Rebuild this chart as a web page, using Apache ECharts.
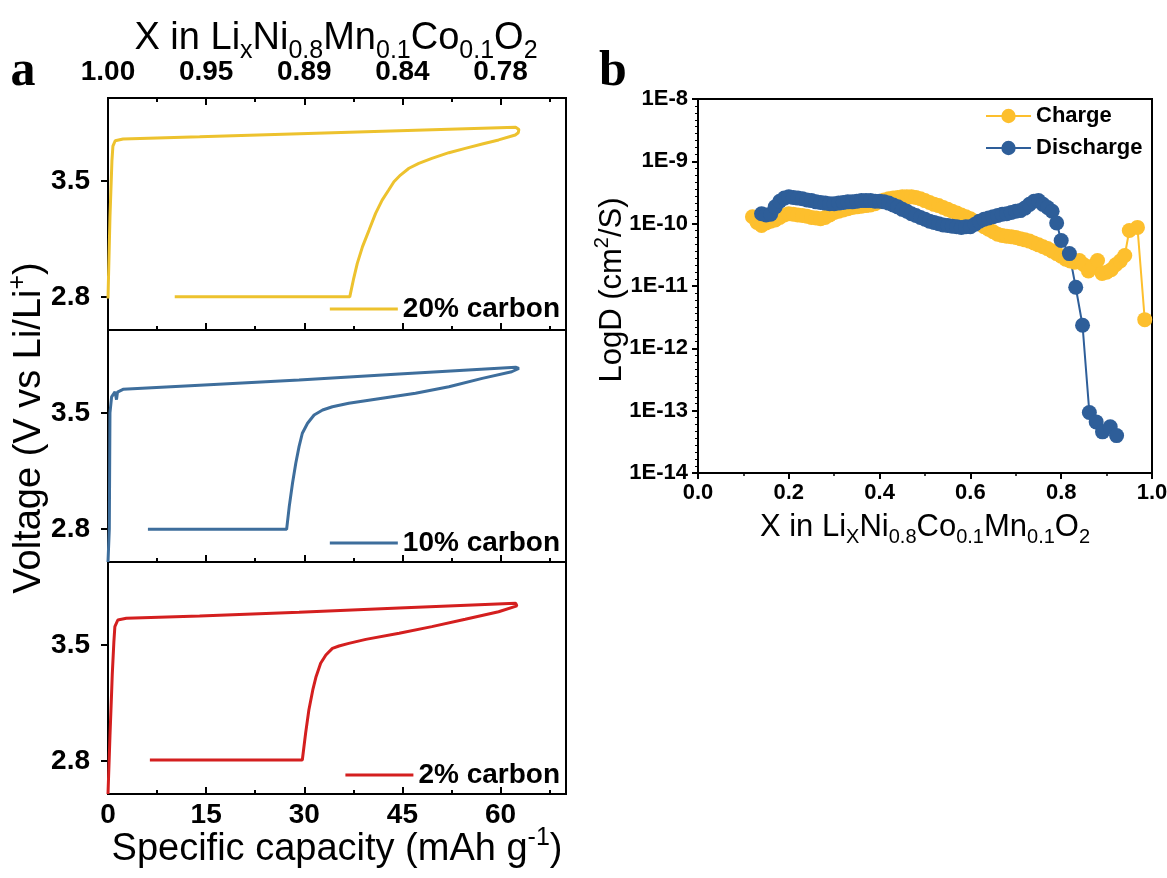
<!DOCTYPE html>
<html>
<head>
<meta charset="utf-8">
<script src="https://cdn.jsdelivr.net/npm/echarts@6/dist/echarts.min.js"></script>
<style>
  html, body { margin: 0; padding: 0; background: #fff; }
  #chart { width: 1167px; height: 878px; }
</style>
</head>
<body>
<div id="chart"></div>
<script>
// ---------- panel a: charge/discharge voltage profiles ----------
// capacity in mAh/g, voltage in V (each list traces charge, then discharge)
const capacityTickLabels = ['0', '15', '30', '45', '60'];
const lithiumTickLabels = ['1.00', '0.95', '0.89', '0.84', '0.78'];
const voltageTicks = [2.8, 3.5];

const cap20 = [0, 0.3, 0.6, 0.75, 1.1, 2.3, 14.0, 29.3, 44.5, 62.3, 62.8, 62.7, 62.25, 59.7, 57.2, 54.6, 52.1, 49.5, 47.5, 46.0, 44.7, 43.7, 42.9, 41.9, 40.9, 39.9, 38.9, 38.1, 37.5, 36.95, 10.2];
const volt20 = [2.79, 3.28, 3.62, 3.71, 3.742, 3.753, 3.766, 3.785, 3.803, 3.823, 3.81, 3.79, 3.777, 3.747, 3.722, 3.696, 3.670, 3.636, 3.606, 3.576, 3.535, 3.495, 3.445, 3.384, 3.304, 3.203, 3.103, 3.002, 2.902, 2.80, 2.80];

const cap10 = [0, 0.2, 0.3, 0.55, 1.07, 1.3, 1.45, 2.3, 14.0, 29.2, 44.5, 62.3, 62.8, 62.7, 61.7, 57.2, 52.1, 47.0, 41.9, 36.8, 34.3, 32.8, 31.5, 30.5, 29.7, 29.2, 28.7, 28.2, 27.7, 27.3, 6.1];
const volt10 = [2.6, 2.8, 3.5, 3.597, 3.627, 3.58, 3.625, 3.642, 3.666, 3.698, 3.735, 3.775, 3.768, 3.758, 3.748, 3.708, 3.658, 3.618, 3.588, 3.558, 3.537, 3.517, 3.487, 3.437, 3.377, 3.296, 3.196, 3.075, 2.934, 2.797, 2.797];

const cap2 = [0, 0.3, 0.55, 0.65, 0.9, 1.05, 1.5, 2.8, 14.0, 29.2, 44.5, 62.3, 62.6, 62.5, 62.25, 59.7, 54.6, 49.5, 44.5, 39.4, 36.8, 35.3, 34.3, 33.3, 32.5, 31.8, 31.3, 30.7, 30.2, 29.7, 6.4];
const volt2 = [2.6, 2.95, 3.21, 3.32, 3.52, 3.61, 3.65, 3.66, 3.674, 3.697, 3.722, 3.751, 3.745, 3.735, 3.740, 3.700, 3.654, 3.610, 3.570, 3.533, 3.509, 3.493, 3.479, 3.439, 3.389, 3.308, 3.228, 3.107, 2.966, 2.805, 2.805];

// ---------- panel b: Li-ion diffusion coefficient (log10 of D in cm2/s) ----------
const chargeX = [0.12, 0.13, 0.14, 0.15, 0.16, 0.17, 0.18, 0.19, 0.20, 0.21, 0.22, 0.23, 0.24, 0.25, 0.26, 0.27, 0.28, 0.29,
  0.30, 0.31, 0.32, 0.33, 0.34, 0.35, 0.36, 0.37, 0.38, 0.39, 0.40, 0.41, 0.42, 0.43, 0.44, 0.45, 0.46, 0.47, 0.48, 0.49,
  0.50, 0.51, 0.52, 0.53, 0.54, 0.55, 0.56, 0.57, 0.58, 0.59, 0.60, 0.61, 0.62, 0.63, 0.64, 0.65, 0.66, 0.67, 0.68, 0.69,
  0.70, 0.71, 0.72, 0.73, 0.74, 0.75, 0.76, 0.77, 0.78, 0.79, 0.80, 0.81, 0.82, 0.83, 0.84, 0.85, 0.86, 0.87, 0.88, 0.89,
  0.90, 0.91, 0.92, 0.93, 0.94, 0.95, 0.968, 0.984];
const chargeLogD = [-9.89, -9.98, -10.03, -9.99, -9.96, -9.94, -9.90, -9.86, -9.84, -9.85, -9.86, -9.87, -9.88, -9.90, -9.91, -9.92, -9.90, -9.86,
  -9.82, -9.80, -9.78, -9.76, -9.74, -9.73, -9.72, -9.71, -9.70, -9.68, -9.65, -9.62, -9.60, -9.59, -9.58, -9.57, -9.57, -9.57, -9.58, -9.60,
  -9.63, -9.66, -9.69, -9.71, -9.74, -9.77, -9.80, -9.83, -9.86, -9.89, -9.92, -9.96, -10.00, -10.05, -10.09, -10.13, -10.17, -10.19, -10.20, -10.21,
  -10.22, -10.24, -10.26, -10.28, -10.31, -10.34, -10.37, -10.40, -10.44, -10.48, -10.52, -10.57, -10.60, -10.62, -10.59, -10.66, -10.76, -10.68, -10.59, -10.80,
  -10.78, -10.74, -10.66, -10.60, -10.51, -10.11, -10.06, -11.54];

const dischargeX = [0.14, 0.15, 0.16, 0.17, 0.18, 0.19, 0.20, 0.21, 0.22, 0.23, 0.24, 0.25, 0.26, 0.27, 0.28, 0.29,
  0.30, 0.31, 0.32, 0.33, 0.34, 0.35, 0.36, 0.37, 0.38, 0.39, 0.40, 0.41, 0.42, 0.43, 0.44, 0.45, 0.46, 0.47, 0.48, 0.49,
  0.50, 0.51, 0.52, 0.53, 0.54, 0.55, 0.56, 0.57, 0.58, 0.59, 0.60, 0.61, 0.62, 0.63, 0.64, 0.65, 0.66, 0.67, 0.68, 0.69,
  0.70, 0.71, 0.72, 0.73, 0.74, 0.75, 0.76, 0.77, 0.78, 0.79, 0.80, 0.818, 0.832, 0.847, 0.862, 0.877, 0.891, 0.908, 0.922];
const dischargeLogD = [-9.84, -9.86, -9.85, -9.73, -9.64, -9.59, -9.57, -9.58, -9.59, -9.60, -9.62, -9.63, -9.65, -9.66, -9.67, -9.68,
  -9.68, -9.67, -9.66, -9.65, -9.65, -9.64, -9.63, -9.63, -9.63, -9.64, -9.64, -9.65, -9.67, -9.70, -9.73, -9.77, -9.80, -9.84, -9.87, -9.90,
  -9.93, -9.96, -9.98, -10.00, -10.02, -10.03, -10.04, -10.05, -10.06, -10.05, -10.05, -10.01, -9.96, -9.93, -9.91, -9.89, -9.87, -9.85, -9.84, -9.82,
  -9.80, -9.79, -9.75, -9.69, -9.64, -9.63, -9.69, -9.74, -9.80, -9.99, -10.27, -10.48, -11.02, -11.63, -13.03, -13.18, -13.34, -13.26, -13.40];

// ---------- helpers ----------
const zip = (xs, ys) => xs.map((x, i) => [x, ys[i]]);
const zipLog = (xs, ys) => xs.map((x, i) => [x, Math.pow(10, ys[i])]);

const FONT = '"Liberation Sans", Arial, sans-serif';
const BLACK = '#000';
const YELLOW_A = '#EDC22E', BLUE_A = '#3E6E9C', RED_A = '#D41F1F';
const YELLOW_B = '#FDBF2D', BLUE_B = '#2E5E99';

// three stacked panels share the same geometry
const panelLeft = 108, panelWidth = 458, panelHeight = 232;
const panelTops = [98, 330, 562];

const grids = panelTops.map(t => ({
  left: panelLeft, top: t, width: panelWidth, height: panelHeight,
  show: true, borderColor: BLACK, borderWidth: 2, backgroundColor: 'transparent',
  containLabel: false, outerBoundsMode: 'none'
}));
grids.push({
  left: 698, top: 99, width: 454, height: 374,
  show: true, borderColor: BLACK, borderWidth: 2, backgroundColor: 'transparent',
  containLabel: false, outerBoundsMode: 'none'
});

function capacityAxis(gridIndex, opts) {
  return Object.assign({
    type: 'value', gridIndex, min: 0, max: 70, interval: 15,
    axisLine: { show: true, onZero: false, lineStyle: { color: BLACK, width: 2 } },
    axisTick: { show: true, inside: true, length: 7, lineStyle: { color: BLACK, width: 2 } },
    minorTick: { show: true, splitNumber: 2, length: 4, lineStyle: { color: BLACK, width: 2 } },
    splitLine: { show: false },
    axisLabel: { show: false }
  }, opts);
}

const tickLabelA = { fontFamily: FONT, fontWeight: 'bold', fontSize: 28, color: BLACK };

const xAxes = [
  capacityAxis(0, { position: 'bottom' }),
  capacityAxis(0, {
    position: 'top',
    axisLabel: Object.assign({ show: true, margin: 12,
      formatter: v => (v % 15 === 0 && v / 15 < lithiumTickLabels.length) ? lithiumTickLabels[v / 15] : '' }, tickLabelA)
  }),
  capacityAxis(1, { position: 'bottom' }),
  capacityAxis(2, {
    position: 'bottom',
    axisLabel: Object.assign({ show: true, margin: 7,
      formatter: v => (v % 15 === 0 && v / 15 < capacityTickLabels.length) ? capacityTickLabels[v / 15] : '' }, tickLabelA)
  }),
  {
    type: 'value', gridIndex: 3, min: 0, max: 1, interval: 0.2, position: 'bottom',
    axisLine: { show: true, onZero: false, lineStyle: { color: BLACK, width: 2 } },
    axisTick: { show: true, inside: false, length: 6, lineStyle: { color: BLACK, width: 2 } },
    minorTick: { show: true, splitNumber: 2, length: 3, lineStyle: { color: BLACK, width: 1.5 } },
    splitLine: { show: false },
    axisLabel: { show: true, margin: 9, fontFamily: FONT, fontWeight: 'bold', fontSize: 22, color: BLACK,
      formatter: v => v.toFixed(1) }
  }
];

const yAxes = [0, 1, 2].map(g => ({
  type: 'value', gridIndex: g, min: 2.6, max: 4.0,
  axisLine: { show: true, onZero: false, lineStyle: { color: BLACK, width: 2 } },
  axisTick: { show: true, inside: false, length: 7, customValues: voltageTicks, lineStyle: { color: BLACK, width: 2 } },
  splitLine: { show: false },
  axisLabel: Object.assign({ show: true, margin: 18, customValues: voltageTicks, formatter: v => v.toFixed(1) }, tickLabelA)
}));
yAxes.push({
  type: 'log', logBase: 10, gridIndex: 3, min: 1e-14, max: 1e-8,
  axisLine: { show: true, onZero: false, lineStyle: { color: BLACK, width: 2 } },
  axisTick: { show: true, inside: false, length: 6, lineStyle: { color: BLACK, width: 2 } },
  splitLine: { show: false },
  axisLabel: { show: true, margin: 10, fontFamily: FONT, fontWeight: 'bold', fontSize: 22, color: BLACK,
    formatter: v => '1E' + Math.round(Math.log10(v)) }
});
// companion axis in decades, only to draw the small ticks between the decades
yAxes.push({
  type: 'value', gridIndex: 3, min: -14, max: -8, interval: 1, position: 'left',
  axisLine: { show: false }, axisTick: { show: false }, axisLabel: { show: false }, splitLine: { show: false },
  minorTick: { show: true, splitNumber: 9, length: 3, lineStyle: { color: BLACK, width: 1 } }
});

function profile(name, xi, yi, data, color) {
  return {
    name, type: 'line', xAxisIndex: xi, yAxisIndex: yi, data,
    symbol: 'none', smooth: false, clip: true,
    lineStyle: { color, width: 3 }, itemStyle: { color }
  };
}

function diffusion(name, data, color) {
  return {
    name, type: 'line', xAxisIndex: 4, yAxisIndex: 3, data,
    symbol: 'circle', symbolSize: 15, showSymbol: true,
    lineStyle: { color, width: 2 }, itemStyle: { color }
  };
}

const series = [
  profile('20% carbon', 0, 0, zip(cap20, volt20), YELLOW_A),
  profile('10% carbon', 2, 1, zip(cap10, volt10), BLUE_A),
  profile('2% carbon', 3, 2, zip(cap2, volt2), RED_A),
  diffusion('Charge', zipLog(chargeX, chargeLogD), YELLOW_B),
  diffusion('Discharge', zipLog(dischargeX, dischargeLogD), BLUE_B)
];

const legendTextA = { fontFamily: FONT, fontWeight: 'bold', fontSize: 28, color: BLACK };
function panelLegend(name, top) {
  return {
    data: [name], right: 607, top, orient: 'horizontal', padding: 0,
    icon: 'rect', itemWidth: 68, itemHeight: 3, itemGap: 0, itemTextGap: 7,
    selectedMode: false, textStyle: legendTextA
  };
}

const legends = [
  panelLegend('20% carbon', 295),
  panelLegend('10% carbon', 529),
  panelLegend('2% carbon', 761),
  {
    data: ['Charge', 'Discharge'], left: 985, top: 105, orient: 'vertical', padding: 0,
    itemWidth: 45, itemHeight: 18, itemGap: 10, itemTextGap: 5, selectedMode: false,
    textStyle: { fontFamily: FONT, fontWeight: 'bold', fontSize: 22, color: BLACK }
  }
];

// titles with sub/superscripts
const titleRich = (size, small) => ({
  sub: { fontSize: small, fontFamily: FONT, fill: BLACK, lineHeight: small, verticalAlign: 'bottom' },
  sup: { fontSize: small, fontFamily: FONT, fill: BLACK, lineHeight: Math.round(size * 0.95), verticalAlign: 'top' }
});
function titleText(text, x, y, size, small, rotation) {
  return {
    type: 'text', x, y, rotation: rotation || 0,
    style: {
      text, fontFamily: FONT, fontSize: size, lineHeight: Math.round(size * 1.3),
      fill: BLACK, align: 'center', verticalAlign: 'middle', rich: titleRich(size, small)
    }
  };
}

const graphics = [
  titleText('X in Li{sub|x}Ni{sub|0.8}Mn{sub|0.1}Co{sub|0.1}O{sub|2}', 336, 39, 38, 25),
  titleText('Specific capacity (mAh g{sup|-1})', 337, 850, 38, 25),
  titleText('Voltage (V vs Li/Li{sup|+})', 30, 428, 38, 25, Math.PI / 2),
  titleText('X in Li{sub|X}Ni{sub|0.8}Co{sub|0.1}Mn{sub|0.1}O{sub|2}', 925, 527, 31, 20),
  titleText('LogD (cm{sup|2}/S)', 612, 290, 31, 20, Math.PI / 2),
  { type: 'text', x: 23, y: 72, style: { text: 'a', fontFamily: '"Liberation Serif", "Times New Roman", serif',
      fontWeight: 'bold', fontSize: 50, fill: BLACK, align: 'center', verticalAlign: 'middle' } },
  { type: 'text', x: 613, y: 72, style: { text: 'b', fontFamily: '"Liberation Serif", "Times New Roman", serif',
      fontWeight: 'bold', fontSize: 50, fill: BLACK, align: 'center', verticalAlign: 'middle' } }
];

const chart = echarts.init(document.getElementById('chart'), null, { renderer: 'canvas' });
chart.setOption({
  animation: false,
  backgroundColor: '#fff',
  grid: grids,
  xAxis: xAxes,
  yAxis: yAxes,
  legend: legends,
  series,
  graphic: graphics
});
</script>
</body>
</html>
